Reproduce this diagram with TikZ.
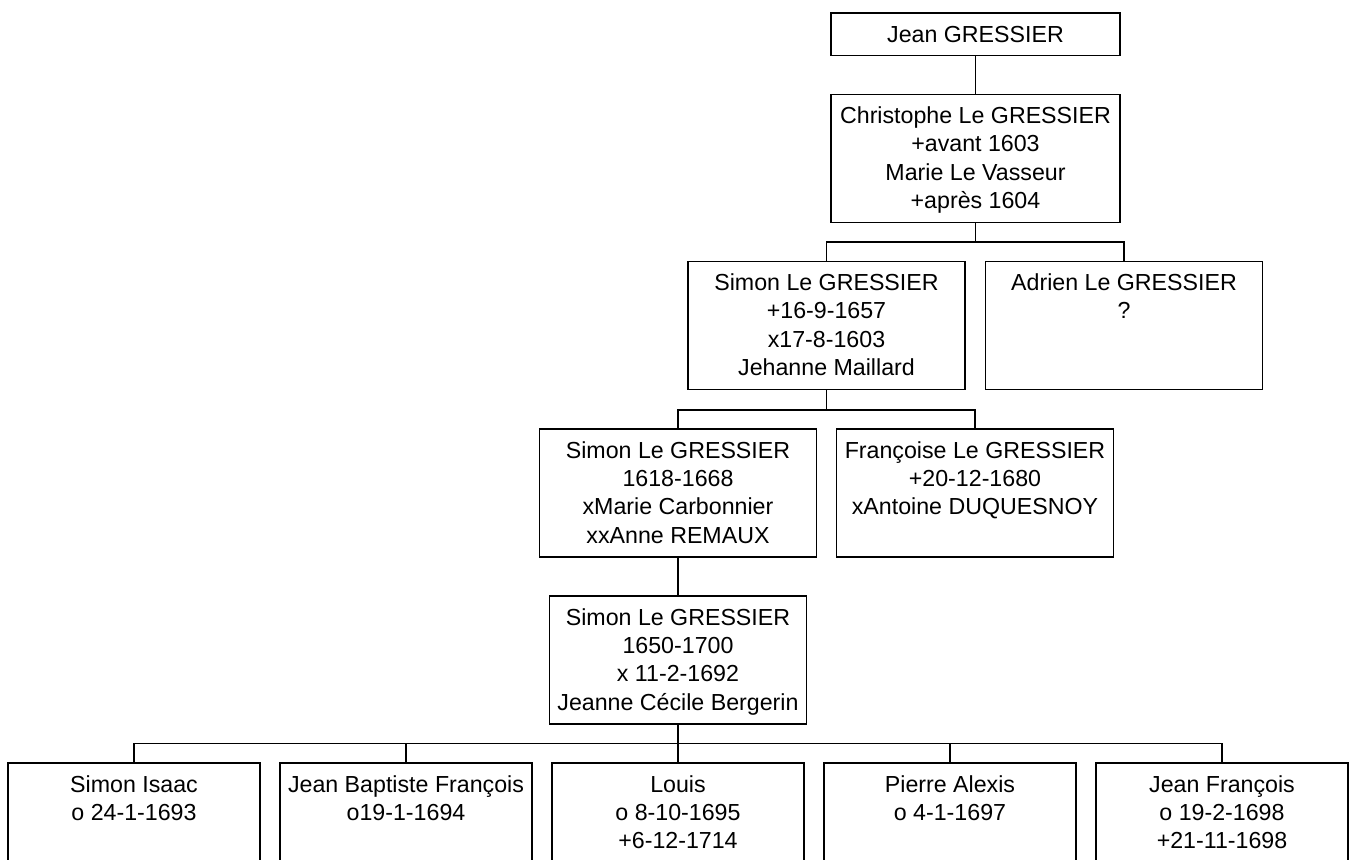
\documentclass[tikz,border=0pt]{standalone}
\usepackage{fontspec}
\setmainfont{Liberation Sans}
\usepackage{tikz}
\tikzset{
person/.style 2 args={draw, line width=0.8pt, inner sep=0pt, anchor=north,
    font=\fontsize{11.6}{14.2}\selectfont,
    execute at begin node={\begin{minipage}[t][#2][t]{#1}\centering\rule{0pt}{14.6pt}},
    execute at end node={\end{minipage}}},
link/.style={line width=0.8pt}}

\begin{document}
\begin{tikzpicture}[x=0.5pt, y=-0.5pt]
    
                \useasboundingbox (0,0) rectangle (1351,859);
                \clip (0,0) rectangle (1351,859);
    
                \node[person={144.5pt}{21.3pt}] (J) at (975.5,12) {Jean GRESSIER};
                \node[person={144.5pt}{64pt}] (C) at (975.5,93.5) {Christophe Le GRESSIER\\+avant 1603\\Marie Le Vasseur\\+après 1604};
                \node[person={138.5pt}{64pt}] (S1) at (826.5,260.5) {Simon Le GRESSIER\\+16-9-1657\\x17-8-1603\\Jehanne Maillard};
                \node[person={138.5pt}{64pt}] (A) at (1124,260.5) {Adrien Le GRESSIER\\?};
                \node[person={138.5pt}{64pt}] (S2) at (678,428) {Simon Le GRESSIER\\1618-1668\\xMarie Carbonnier\\xxAnne REMAUX};
                \node[person={138.5pt}{64pt}] (F) at (975,428) {Françoise Le GRESSIER\\+20-12-1680\\xAntoine DUQUESNOY};
                \node[person={128.5pt}{64pt}] (S3) at (678,595) {Simon Le GRESSIER\\1650-1700\\x 11-2-1692\\Jeanne Cécile Bergerin};
                \node[person={126pt}{64pt}] (K1) at (134,762) {Simon Isaac\\o 24-1-1693};
                \node[person={126pt}{64pt}] (K2) at (406,762) {Jean Baptiste François\\o19-1-1694};
                \node[person={126pt}{64pt}] (K3) at (678,762) {Louis\\o 8-10-1695\\+6-12-1714};
                \node[person={126pt}{64pt}] (K4) at (950,762) {Pierre Alexis\\o 4-1-1697};
                \node[person={126pt}{64pt}] (K5) at (1222,762) {Jean François\\o 19-2-1698\\+21-11-1698};
            
                \draw[link] (J) -- (C);
                \draw[link] (C.south) -- ++(0,19) -| (S1.north);
                \draw[link] (C.south) -- ++(0,19) -| (A.north);
                \draw[link] (S1.south) -- ++(0,20) -| (S2.north);
                \draw[link] (S1.south) -- ++(0,20) -| (F.north);
                \draw[link] (S2) -- (S3);
                \draw[link] (S3.south) -- ++(0,19) -| (K1.north);
                \draw[link] (S3.south) -- ++(0,19) -| (K2.north);
                \draw[link] (S3.south) -- ++(0,19) -| (K3.north);
                \draw[link] (S3.south) -- ++(0,19) -| (K4.north);
                \draw[link] (S3.south) -- ++(0,19) -| (K5.north);
        
            \end{tikzpicture}
\end{document}
